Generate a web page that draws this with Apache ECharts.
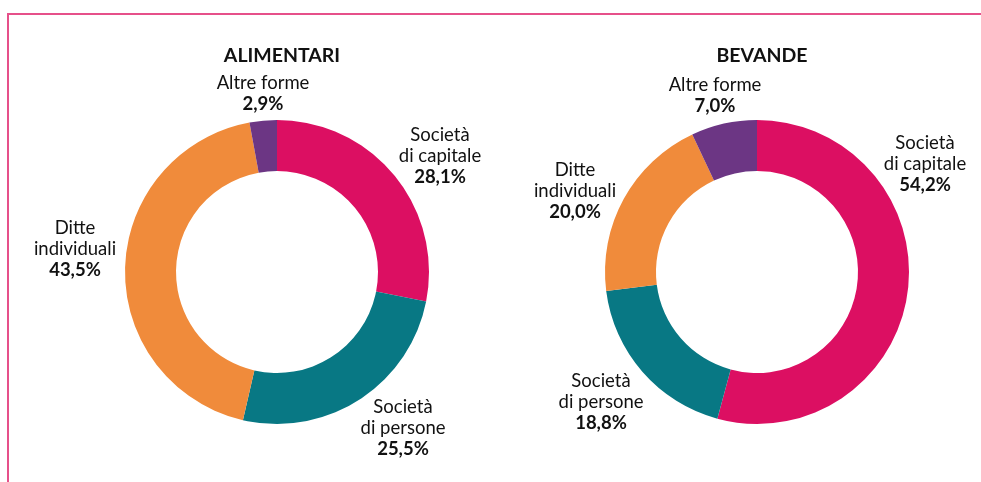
<!DOCTYPE html>
<html>
<head>
<meta charset="utf-8">
<script src="https://cdn.jsdelivr.net/npm/echarts@6/dist/echarts.min.js"></script>
<style>
html,body{margin:0;padding:0;background:#fff;}
#chart{width:981px;height:482px;}
</style>
</head>
<body>
<div id="chart"></div>
<script>
const categories = ['Società\ndi capitale', 'Società\ndi persone', 'Ditte\nindividuali', 'Altre forme'];
const alimentariValues = [28.1, 25.5, 43.5, 2.9];
const bevandeValues = [54.2, 18.8, 20.0, 7.0];
const chartTitles = ['ALIMENTARI', 'BEVANDE'];
const colors = ['#dc0f62', '#087884', '#f08b3b', '#6c3684'];

const leftLabelPos = [[440, 156], [403, 428], [75, 249], [263, 94]];
const rightLabelPos = [[925, 164], [601, 402], [575, 191], [715, 96]];

const fontFamily = 'Lato, "Noto Sans", sans-serif';

function fmt(v) { return v.toFixed(1).replace('.', ',') + '%'; }

function makeSeries(values, center, labelPos) {
  return {
    type: 'pie',
    center: center,
    radius: [101, 152],
    startAngle: 90,
    clockwise: true,
    silent: true,
    avoidLabelOverlap: false,
    data: categories.map((c, i) => ({ name: c, value: values[i], itemStyle: { color: colors[i] } })),
    label: {
      show: true,
      position: 'outside',
      formatter: p => '{n|' + p.name + '}\n{v|' + fmt(p.value) + '}',
      rich: {
        n: { fontFamily: fontFamily, fontSize: 18.5, color: '#111', lineHeight: 21, align: 'center' },
        v: { fontFamily: fontFamily, fontSize: 18.5, fontWeight: 'bold', color: '#111', lineHeight: 21, align: 'center' }
      }
    },
    labelLine: { show: false },
    labelLayout: function (params) {
      const p = labelPos[params.dataIndex];
      return { x: p[0], y: p[1], align: 'center', verticalAlign: 'middle' };
    },
    itemStyle: { borderWidth: 0 },
    emphasis: { disabled: true }
  };
}

const chart = echarts.init(document.getElementById('chart'), null, { renderer: 'canvas' });
chart.setOption({
  animation: false,
  title: [
    { text: chartTitles[0], left: 277, top: 41, textAlign: 'center',
      textStyle: { fontFamily: fontFamily, fontSize: 19.5, fontWeight: 'bold', color: '#111' } },
    { text: chartTitles[1], left: 757, top: 41, textAlign: 'center',
      textStyle: { fontFamily: fontFamily, fontSize: 19.5, fontWeight: 'bold', color: '#111' } }
  ],
  graphic: [
    { type: 'line', shape: { x1: 8, y1: 14, x2: 981, y2: 14 }, style: { stroke: '#e6508a', lineWidth: 2 } },
    { type: 'line', shape: { x1: 8, y1: 13, x2: 8, y2: 482 }, style: { stroke: '#e6508a', lineWidth: 2 } }
  ],
  series: [
    makeSeries(alimentariValues, [277, 272], leftLabelPos),
    makeSeries(bevandeValues, [757, 272], rightLabelPos)
  ]
});
</script>
</body>
</html>
